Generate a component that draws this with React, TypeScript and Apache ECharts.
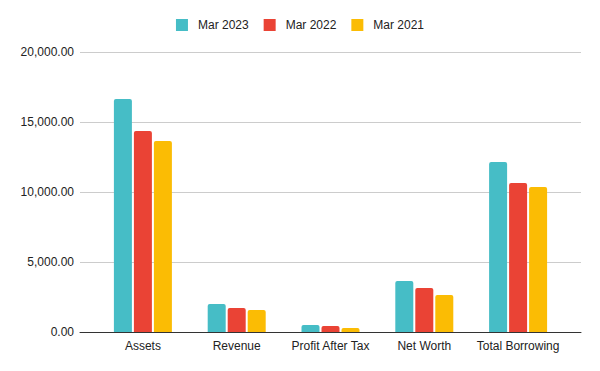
import React, { useEffect, useRef } from "react";
import * as echarts from "echarts";

const categories = ["Assets", "Revenue", "Profit After Tax", "Net Worth", "Total Borrowing"];
const seriesNames = ["Mar 2023", "Mar 2022", "Mar 2021"];
const mar2023 = [16640, 2000, 500, 3640, 12140];
const mar2022 = [14360, 1710, 430, 3140, 10640];
const mar2021 = [13640, 1570, 290, 2640, 10360];
const colors = ["#46BDC6", "#EA4335", "#FBBC04"];
const yMin = 0;
const yMax = 20000;
const yInterval = 5000;

const FONT = "'Liberation Sans', Arial, sans-serif";

function fmt(v: number): string {
  return v.toLocaleString("en-US", { minimumFractionDigits: 2, maximumFractionDigits: 2 });
}

export default function App() {
  const ref = useRef<HTMLDivElement>(null);
  useEffect(() => {
    document.body.style.margin = "0";
    if (!ref.current) return;
    const chart = echarts.init(ref.current, undefined, { renderer: "svg" });
    const values = [mar2023, mar2022, mar2021];
    chart.setOption({
      animation: false,
      backgroundColor: "#ffffff",
      textStyle: { fontFamily: FONT },
      legend: {
        top: 19,
        left: "center",
        padding: 0,
        itemWidth: 12,
        itemHeight: 12,
        itemGap: 15,
        icon: "rect",
        data: seriesNames,
        textStyle: { fontFamily: FONT, fontSize: 12, color: "#222222", padding: [0, 0, 0, 5] },
      },
      grid: [
        { left: 80, right: 19, top: 52, bottom: 39, containLabel: false },
        { left: 96, right: 35, top: 52, bottom: 39, containLabel: false },
      ],
      xAxis: [
        {
          gridIndex: 0,
          type: "category",
          data: [""],
          axisLine: { show: true, lineStyle: { color: "#333333", width: 1 } },
          axisTick: { show: false },
          axisLabel: { show: false },
          splitLine: { show: false },
          z: 5,
        },
        {
          gridIndex: 1,
          type: "category",
          data: categories,
          axisLine: { show: false },
          axisTick: { show: false },
          axisLabel: { color: "#222222", fontSize: 12, fontFamily: FONT, margin: 8, interval: 0 },
        },
      ],
      yAxis: [
        {
          gridIndex: 0,
          type: "value",
          min: yMin,
          max: yMax,
          interval: yInterval,
          axisLine: { show: false },
          axisTick: { show: false },
          axisLabel: { color: "#222222", fontSize: 12, fontFamily: FONT, margin: 6, formatter: (v: number) => fmt(v) },
          splitLine: { show: true, lineStyle: { color: "#cccccc", width: 1 } },
        },
        {
          gridIndex: 1,
          type: "value",
          min: yMin,
          max: yMax,
          interval: yInterval,
          show: false,
          splitLine: { show: false },
        },
      ],
      series: seriesNames.map((name, i) => ({
        name,
        type: "bar",
        xAxisIndex: 1,
        yAxisIndex: 1,
        data: values[i],
        barWidth: 18,
        barGap: "11.1%",
        itemStyle: { color: colors[i], borderRadius: [2, 2, 0, 0] },
      })),
    });
    return () => chart.dispose();
  }, []);
  return <div ref={ref} style={{ width: 600, height: 371 }} />;
}
